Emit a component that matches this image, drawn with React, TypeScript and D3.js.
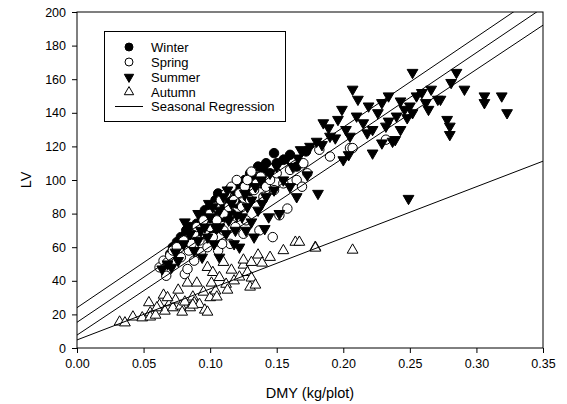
import React, { useEffect, useRef } from 'react';
import * as d3 from 'd3';

// [DMY, LV]
const winterPts: [number, number][] = [
  [0.070, 56], [0.072, 60], [0.075, 63], [0.078, 66], [0.080, 62], [0.082, 70], [0.083, 64],
  [0.085, 72], [0.086, 68], [0.088, 66], [0.090, 74], [0.092, 71], [0.094, 78], [0.095, 70],
  [0.096, 82], [0.098, 76], [0.100, 84], [0.101, 80], [0.102, 74], [0.104, 88], [0.105, 82],
  [0.106, 92], [0.108, 86], [0.110, 78], [0.110, 90], [0.112, 84], [0.114, 94], [0.115, 88],
  [0.116, 80], [0.118, 96], [0.120, 92], [0.120, 86], [0.122, 98], [0.125, 94], [0.126, 100],
  [0.128, 90], [0.130, 104], [0.132, 96], [0.134, 102], [0.136, 108], [0.138, 98], [0.140, 106],
  [0.142, 110], [0.145, 104], [0.148, 116], [0.150, 110], [0.155, 112], [0.160, 115],
  [0.165, 108], [0.172, 117], [0.091, 66], [0.097, 68], [0.103, 70],
];

const springPts: [number, number][] = [
  [0.062, 48], [0.065, 52], [0.067, 43], [0.068, 51], [0.070, 55], [0.072, 58], [0.075, 60],
  [0.078, 54], [0.080, 64], [0.081, 44], [0.083, 47], [0.084, 58], [0.086, 62], [0.088, 68],
  [0.088, 52], [0.090, 72], [0.092, 64], [0.093, 57], [0.095, 76], [0.096, 68], [0.098, 60],
  [0.100, 80], [0.100, 72], [0.102, 66], [0.104, 84], [0.105, 76], [0.106, 58], [0.108, 88],
  [0.110, 80], [0.110, 70], [0.112, 92], [0.114, 84], [0.115, 62], [0.116, 96], [0.118, 88],
  [0.120, 78], [0.120, 100], [0.122, 92], [0.124, 84], [0.125, 68], [0.126, 96], [0.128, 100],
  [0.130, 88], [0.131, 105], [0.133, 94], [0.135, 98], [0.137, 70], [0.138, 102], [0.140, 90],
  [0.142, 96], [0.145, 100], [0.147, 66], [0.148, 94], [0.150, 104], [0.152, 79], [0.155, 98],
  [0.158, 83], [0.160, 106], [0.165, 100], [0.169, 96], [0.170, 110], [0.173, 104], [0.182, 118],
  [0.190, 114], [0.205, 119], [0.207, 119], [0.232, 124], [0.109, 62], [0.119, 72], [0.127, 76],
];

const summerPts: [number, number][] = [
  [0.064, 47], [0.068, 50], [0.071, 48], [0.074, 57], [0.076, 52], [0.080, 62], [0.081, 75],
  [0.085, 68], [0.088, 58], [0.091, 64], [0.091, 80], [0.094, 54], [0.096, 72], [0.098, 66],
  [0.100, 78], [0.102, 84], [0.104, 72], [0.107, 54], [0.107, 72], [0.107, 82], [0.110, 90],
  [0.112, 68], [0.114, 76], [0.116, 86], [0.118, 62], [0.120, 79], [0.122, 60], [0.124, 78],
  [0.126, 92], [0.128, 84], [0.131, 75], [0.131, 88], [0.134, 96], [0.136, 82], [0.138, 100],
  [0.141, 71], [0.142, 90], [0.145, 104], [0.148, 94], [0.150, 108], [0.152, 80], [0.155, 100],
  [0.158, 113], [0.160, 96], [0.162, 108], [0.165, 90], [0.166, 113], [0.168, 118], [0.173, 103],
  [0.175, 120], [0.180, 123], [0.181, 92], [0.184, 121], [0.185, 134], [0.189, 131], [0.190, 126],
  [0.194, 125], [0.196, 136], [0.199, 142], [0.200, 112], [0.202, 130], [0.204, 115], [0.205, 126],
  [0.207, 154], [0.210, 138], [0.211, 148], [0.215, 134], [0.218, 128], [0.219, 144], [0.222, 116],
  [0.222, 130], [0.226, 140], [0.229, 122], [0.229, 146], [0.232, 132], [0.234, 135], [0.234, 150],
  [0.237, 123], [0.239, 124], [0.240, 138], [0.243, 130], [0.243, 147], [0.246, 142], [0.248, 137],
  [0.249, 89], [0.250, 144], [0.252, 140], [0.252, 164], [0.255, 150], [0.259, 152], [0.262, 146],
  [0.264, 142], [0.266, 154], [0.271, 148], [0.273, 148], [0.278, 136], [0.280, 127], [0.280, 132],
  [0.281, 158], [0.285, 164], [0.291, 154], [0.306, 150], [0.306, 146], [0.319, 150], [0.323, 140],
  [0.093, 70], [0.099, 86], [0.103, 62], [0.113, 94], [0.119, 70], [0.127, 70], [0.133, 66],
  [0.139, 86], [0.144, 78],
];

const autumnPts: [number, number][] = [
  [0.032, 15.5], [0.036, 15], [0.042, 18.5], [0.049, 18], [0.054, 27], [0.055, 21], [0.055, 18.5],
  [0.059, 19.6], [0.062, 25.6], [0.065, 31.5], [0.066, 22], [0.070, 27], [0.072, 24], [0.074, 28.6],
  [0.076, 34.5], [0.078, 25], [0.079, 21.4], [0.081, 27.4], [0.083, 38.7], [0.085, 24], [0.087, 30.4],
  [0.088, 27], [0.090, 38.7], [0.092, 26], [0.095, 33.3], [0.096, 22.6], [0.098, 48], [0.098, 21.4],
  [0.100, 30], [0.101, 38.7], [0.102, 45], [0.104, 34], [0.105, 30.4], [0.107, 42], [0.110, 51],
  [0.112, 38], [0.113, 34.5], [0.116, 46.4], [0.118, 40], [0.122, 42.3], [0.125, 49.4], [0.125, 52.4],
  [0.128, 45], [0.130, 36.3], [0.131, 41.7], [0.131, 51], [0.134, 37.5], [0.136, 55.4], [0.139, 50.6],
  [0.145, 54], [0.155, 58], [0.164, 63], [0.167, 63], [0.179, 60], [0.179, 59.5], [0.207, 58.3],
  [0.087, 25.6], [0.068, 30], [0.060, 24],
];

// seasonal regressions LV = a + b * DMY
const seasons = ['Winter', 'Spring', 'Summer', 'Autumn'];
const regIntercepts = [24, 7.7, 15.3, 4.8];
const regSlopes = [537, 527, 535, 304];

const xTicks = [0, 0.05, 0.1, 0.15, 0.2, 0.25, 0.3, 0.35];
const yTicks = [0, 20, 40, 60, 80, 100, 120, 140, 160, 180, 200];

const font = 'Liberation Sans, Arial, sans-serif';

export default function App() {
  const ref = useRef<SVGSVGElement>(null);

  useEffect(() => {
    const svg = d3.select(ref.current);
    svg.selectAll('*').remove();

    const left = 77, right = 543, top = 12, bottom = 348;
    const x = d3.scaleLinear().domain([0, 0.35]).range([left, right]);
    const y = d3.scaleLinear().domain([0, 200]).range([bottom, top]);

    svg.append('defs').append('clipPath').attr('id', 'plotclip')
      .append('rect').attr('x', left).attr('y', top)
      .attr('width', right - left).attr('height', bottom - top);

    const circle = d3.symbol().type(d3.symbolCircle).size(70);
    const tri = d3.symbol().type(d3.symbolTriangle).size(50);

    const drawPts = (pts: [number, number][], kind: string) => {
      const g = svg.append('g').attr('clip-path', 'url(#plotclip)');
      const isTri = kind === 'Summer' || kind === 'Autumn';
      const fill = kind === 'Winter' || kind === 'Summer' ? '#000' : '#fff';
      g.selectAll('path').data(pts).enter().append('path')
        .attr('d', isTri ? tri() : circle())
        .attr('transform', d => `translate(${x(d[0])},${y(d[1])})${kind === 'Summer' ? ' rotate(180)' : ''}`)
        .attr('fill', fill)
        .attr('stroke', '#000')
        .attr('stroke-width', 1);
    };
    drawPts(winterPts, 'Winter');
    drawPts(springPts, 'Spring');
    drawPts(summerPts, 'Summer');
    drawPts(autumnPts, 'Autumn');

    // regression lines, drawn over the points
    const lg = svg.append('g').attr('clip-path', 'url(#plotclip)');
    seasons.forEach((s, i) => {
      const line = d3.line<number>().x(d => x(d)).y(d => y(regIntercepts[i] + regSlopes[i] * d));
      lg.append('path')
        .attr('d', line([0, 0.35]))
        .attr('fill', 'none').attr('stroke', '#000').attr('stroke-width', 1);
    });

    // frame
    svg.append('rect').attr('x', left).attr('y', top)
      .attr('width', right - left).attr('height', bottom - top)
      .attr('fill', 'none').attr('stroke', '#000').attr('stroke-width', 1);

    const xAxis = svg.append('g').attr('transform', `translate(0,${bottom})`)
      .call(d3.axisBottom(x).tickValues(xTicks).tickFormat(d3.format('.2f')).tickSize(5).tickPadding(6).tickSizeOuter(0));
    xAxis.select('.domain').remove();
    xAxis.selectAll('text').attr('font-size', 12.5).attr('font-family', font).attr('fill', '#000');

    const yAxis = svg.append('g').attr('transform', `translate(${left},0)`)
      .call(d3.axisLeft(y).tickValues(yTicks).tickSize(5).tickPadding(6).tickSizeOuter(0));
    yAxis.select('.domain').remove();
    yAxis.selectAll('text').attr('font-size', 12.5).attr('font-family', font).attr('fill', '#000');

    svg.append('text').attr('x', (left + right) / 2).attr('y', 398)
      .attr('text-anchor', 'middle').attr('font-family', font).attr('font-size', 14.5)
      .text('DMY (kg/plot)');
    svg.append('text').attr('transform', `translate(31,${(top + bottom) / 2}) rotate(-90)`)
      .attr('text-anchor', 'middle').attr('font-family', font).attr('font-size', 14.5)
      .text('LV');

    // legend
    const leg = svg.append('g');
    leg.append('rect').attr('x', 104.5).attr('y', 31.5).attr('width', 181).attr('height', 90)
      .attr('fill', '#fff').attr('stroke', '#000').attr('stroke-width', 1);
    const legCircle = d3.symbol().type(d3.symbolCircle).size(50);
    const legTri = d3.symbol().type(d3.symbolTriangle).size(38);
    seasons.forEach((s, i) => {
      const yy = 47 + i * 15;
      const isTri = i >= 2;
      leg.append('path')
        .attr('d', isTri ? legTri() : legCircle())
        .attr('transform', `translate(129,${yy})${s === 'Summer' ? ' rotate(180)' : ''}`)
        .attr('fill', s === 'Winter' || s === 'Summer' ? '#000' : '#fff')
        .attr('stroke', '#000');
      leg.append('text').attr('x', 151).attr('y', yy + 4.5)
        .attr('font-family', font).attr('font-size', 13).text(s);
    });
    leg.append('line').attr('x1', 115).attr('x2', 143).attr('y1', 106.5).attr('y2', 106.5)
      .attr('stroke', '#000');
    leg.append('text').attr('x', 151).attr('y', 111)
      .attr('font-family', font).attr('font-size', 13).text('Seasonal Regression');
  }, []);

  return (
    <svg ref={ref} width={567} height={404}
      style={{ position: 'absolute', left: 0, top: 0, background: '#fff' }} />
  );
}
